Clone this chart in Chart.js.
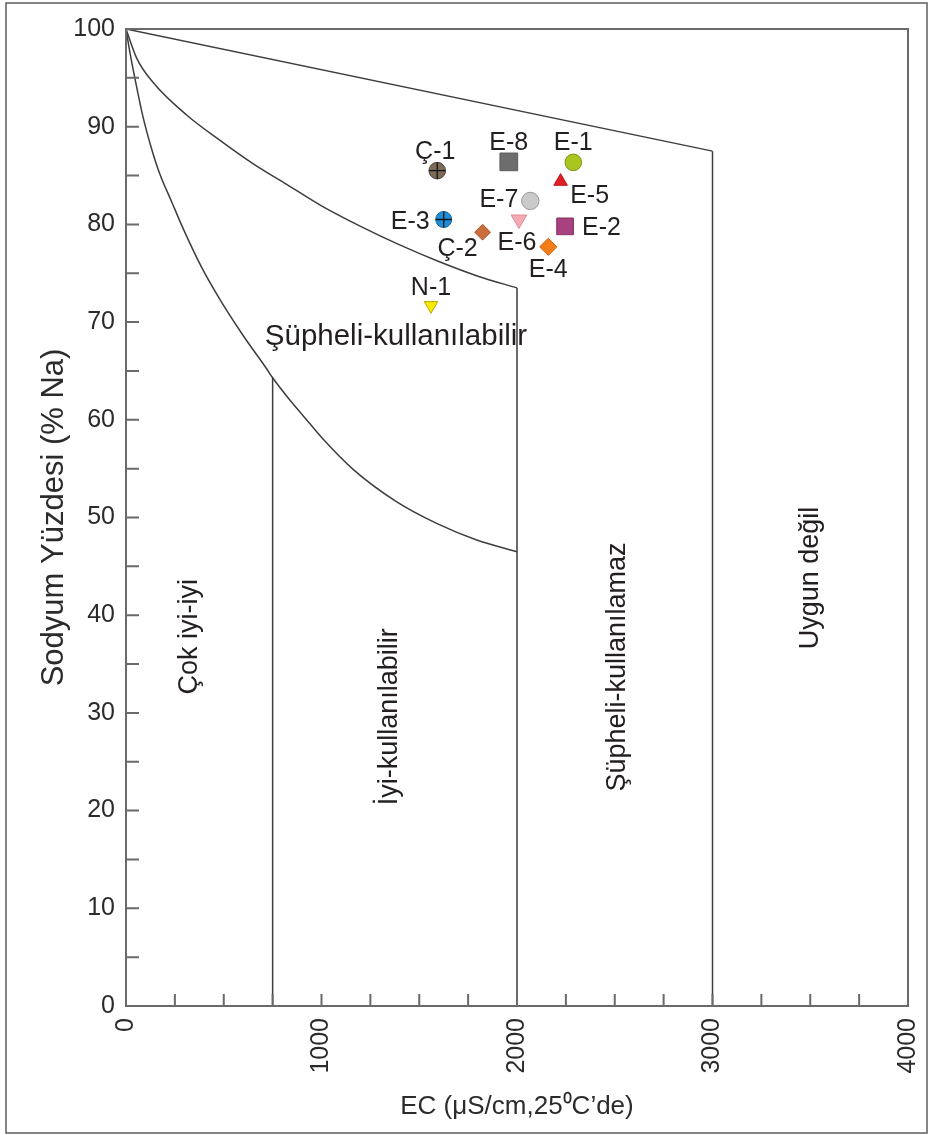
<!DOCTYPE html>
<html>
<head>
<meta charset="utf-8">
<script src="https://cdn.jsdelivr.net/npm/chart.js@4"></script>
<style>
  html, body { margin: 0; padding: 0; background: #fff; }
  #wrap { width: 931px; height: 1135px; position: relative; }
</style>
</head>
<body>
<div id="wrap"><canvas id="wilcox"></canvas></div>
<script>
// su örnekleri: EC (µS/cm) ve % Na
const sampleNames = ['Ç-1', 'E-8', 'E-1', 'E-5', 'E-7', 'E-3', 'E-6', 'E-2', 'Ç-2', 'E-4', 'N-1'];
const sampleEC    = [1592, 1958, 2288, 2223, 2068, 1625, 2010, 2246, 1824, 2160, 1560];
const sampleNa    = [85.5, 86.4, 86.35, 84.4, 82.4, 80.5, 80.5, 79.8, 79.2, 77.7, 71.7];

// sınıf sınırları (Wilcox)
const upperLineEC = [0, 3000];
const upperLineNa = [100, 87.5];
const midCurveEC  = [0, 55, 140, 310, 481, 651, 822, 1000, 1200, 1400, 1600, 1800, 2000];
const midCurveNa  = [100, 97.0, 94.5, 91.2, 88.6, 86.2, 84.1, 81.9, 79.8, 77.9, 76.2, 74.7, 73.5];
const lowCurveEC  = [0, 20, 41, 87, 130, 174, 234, 285, 387, 481, 600, 720, 750, 839, 907, 1009, 1163, 1385, 1589, 1794, 2000];
const lowCurveNa  = [100, 97.6, 95.4, 91.0, 87.8, 85.1, 82.3, 79.9, 75.6, 72.3, 68.6, 65.2, 64.3, 62.0, 60.4, 58.0, 54.9, 51.6, 49.4, 47.7, 46.5];
const boundaryEC    = [750, 2000, 3000];
const boundaryTopNa = [64.3, 73.5, 87.5];

const classNames = ['Çok iyi-iyi', 'İyi-kullanılabilir', 'Şüpheli-kullanılabilir', 'Şüpheli-kullanılamaz', 'Uygun değil'];
const classEC    = [327, 1350, 1381, 2512, 3499];
const classNa    = [37.8, 29.6, 68.5, 34.7, 43.8];

const xLabelTicks = [0, 1000, 2000, 3000, 4000];
const yLabelTicks = [0, 10, 20, 30, 40, 50, 60, 70, 80, 90, 100];

const FONT = "'Liberation Sans', Arial, sans-serif";

// görünüm
const markerStyle = {
  'Ç-1': { shape: 'circle',   r: 8.3,  fill: '#7b6b57', line: '#4d4236', cross: true },
  'E-8': { shape: 'rect',     r: 12.5, fill: '#6d6d6d', line: '#5a5a5a' },
  'E-1': { shape: 'circle',   r: 8.3,  fill: '#a9c61f', line: '#7d9212' },
  'E-5': { shape: 'triangle', r: 7.8,  fill: '#e01f26', line: '#c0141b' },
  'E-7': { shape: 'circle',   r: 8.7,  fill: '#cacaca', line: '#9a9a9a' },
  'E-3': { shape: 'circle',   r: 8,    fill: '#1d8fd8', line: '#15679c', cross: true },
  'E-6': { shape: 'triangle', r: 9,    fill: '#f5aab6', line: '#d98c98', rot: 180 },
  'E-2': { shape: 'rect',     r: 11.8, fill: '#a8417f', line: '#84305f' },
  'Ç-2': { shape: 'rectRot',  r: 7.9,  fill: '#c96d3d', line: '#a9552b' },
  'E-4': { shape: 'rectRot',  r: 8.6,  fill: '#f27c18', line: '#d0650c' },
  'N-1': { shape: 'triangle', r: 7.8,  fill: '#f7ea00', line: '#b7a800', rot: 180 }
};
const labelPlace = {
  'Ç-1': { dx: -2,  dy: -12, align: 'center' },
  'E-8': { dx: 0,   dy: -12, align: 'center' },
  'E-1': { dx: 0,   dy: -12, align: 'center' },
  'E-5': { dx: 29,  dy: 22,  align: 'center' },
  'E-7': { dx: -12, dy: 6,   align: 'right' },
  'E-3': { dx: -14, dy: 9,   align: 'right' },
  'E-6': { dx: -2,  dy: 30,  align: 'center' },
  'E-2': { dx: 17,  dy: 9,   align: 'left' },
  'Ç-2': { dx: -25, dy: 24,  align: 'center' },
  'E-4': { dx: 0,   dy: 30,  align: 'center' },
  'N-1': { dx: 0,   dy: -10, align: 'center' }
};
const classRotation = [-90, -90, 0, -90, -90];
const classFontSize = [27, 27, 29.5, 27, 27];

function pts(xs, ys) {
  return xs.map((v, i) => ({ x: v, y: ys[i] }));
}

const lineStyle = {
  showLine: true,
  pointRadius: 0,
  borderColor: '#3d3d3d',
  borderWidth: 1.5,
  fill: false
};

const markerData = pts(sampleEC, sampleNa);
const crossIdx = sampleNames.map((n, i) => i).filter(i => markerStyle[sampleNames[i]].cross);

const datasets = [
  {
    data: crossIdx.map(i => markerData[i]),
    pointStyle: 'cross',
    pointRadius: crossIdx.map(i => markerStyle[sampleNames[i]].r),
    borderColor: '#151515',
    pointBorderWidth: 1.3
  },
  {
    data: markerData,
    pointStyle: sampleNames.map(n => markerStyle[n].shape),
    pointRadius: sampleNames.map(n => markerStyle[n].r),
    pointRotation: sampleNames.map(n => markerStyle[n].rot || 0),
    backgroundColor: sampleNames.map(n => markerStyle[n].fill),
    borderColor: sampleNames.map(n => markerStyle[n].line),
    pointBorderWidth: 1
  },
  Object.assign({ data: pts(upperLineEC, upperLineNa) }, lineStyle),
  Object.assign({ data: pts(midCurveEC, midCurveNa), cubicInterpolationMode: 'monotone' }, lineStyle),
  Object.assign({ data: pts(lowCurveEC, lowCurveNa), cubicInterpolationMode: 'monotone' }, lineStyle)
];
boundaryEC.forEach((ec, i) => {
  datasets.push(Object.assign({ data: pts([ec, ec], [boundaryTopNa[i], 0]) }, lineStyle));
});

const frame = {
  id: 'frame',
  beforeDraw(chart) {
    const ctx = chart.ctx;
    ctx.save();
    ctx.fillStyle = '#fff';
    ctx.fillRect(0, 0, chart.width, chart.height);
    ctx.strokeStyle = '#5e5e5e';
    ctx.lineWidth = 1.5;
    ctx.strokeRect(6, 3, chart.width - 10, chart.height - 5);
    ctx.restore();
  },
  afterDraw(chart) {
    const { ctx, chartArea: a, scales: { x, y } } = chart;
    ctx.save();
    ctx.strokeStyle = '#6a6a6a';
    ctx.lineWidth = 2;
    ctx.strokeRect(a.left, a.top, a.right - a.left, a.bottom - a.top);
    ctx.beginPath();
    x.ticks.forEach(t => {
      const px = x.getPixelForValue(t.value);
      ctx.moveTo(px, a.bottom);
      ctx.lineTo(px, a.bottom - 12);
    });
    y.ticks.forEach(t => {
      const py = y.getPixelForValue(t.value);
      ctx.moveTo(a.left, py);
      ctx.lineTo(a.left + 13, py);
    });
    ctx.stroke();
    ctx.restore();
  }
};

const annotate = {
  id: 'annotate',
  afterDatasetsDraw(chart) {
    const { ctx, scales: { x, y } } = chart;
    ctx.save();
    ctx.fillStyle = '#231f20';
    ctx.font = '25px ' + FONT;
    ctx.textBaseline = 'alphabetic';
    sampleNames.forEach((name, i) => {
      const p = labelPlace[name];
      ctx.textAlign = p.align;
      ctx.fillText(name, x.getPixelForValue(sampleEC[i]) + p.dx, y.getPixelForValue(sampleNa[i]) + p.dy);
    });

    ctx.textAlign = 'center';
    ctx.textBaseline = 'middle';
    classNames.forEach((txt, i) => {
      ctx.save();
      ctx.font = classFontSize[i] + 'px ' + FONT;
      ctx.translate(x.getPixelForValue(classEC[i]), y.getPixelForValue(classNa[i]));
      ctx.rotate(classRotation[i] * Math.PI / 180);
      ctx.fillText(txt, 0, 0);
      ctx.restore();
    });
    ctx.restore();
  }
};

Chart.defaults.font.family = FONT;
Chart.defaults.color = '#2b2b2b';

new Chart(document.getElementById('wilcox'), {
  type: 'scatter',
  data: { datasets: datasets },
  options: {
    responsive: true,
    maintainAspectRatio: false,
    animation: false,
    events: [],
    layout: { padding: { top: 29, right: 23, left: 0, bottom: 0 } },
    plugins: {
      legend: { display: false },
      tooltip: { enabled: false }
    },
    scales: {
      x: {
        type: 'linear',
        min: 0,
        max: 4000,
        grid: { display: false, drawTicks: false },
        border: { display: false },
        ticks: {
          stepSize: 250,
          autoSkip: false,
          maxRotation: 90,
          minRotation: 90,
          padding: 12,
          font: { size: 25 },
          color: '#2b2b2b',
          callback: v => xLabelTicks.includes(v) ? String(v) : ''
        },
        title: {
          display: true,
          text: 'EC (μS/cm,25⁰C’de)',
          font: { size: 26 },
          color: '#2b2b2b',
          padding: { top: 0, bottom: 13 }
        },
        afterFit(scale) {
          scale.height = 129;
          scale.paddingLeft = 0;
          scale.paddingRight = 0;
        }
      },
      y: {
        type: 'linear',
        min: 0,
        max: 100,
        grid: { display: false, drawTicks: false },
        border: { display: false },
        ticks: {
          stepSize: 5,
          autoSkip: false,
          padding: 11,
          font: { size: 25 },
          color: '#2b2b2b',
          callback: v => yLabelTicks.includes(v) ? String(v) : ''
        },
        title: {
          display: true,
          text: 'Sodyum Yüzdesi (% Na)',
          font: { size: 31 },
          color: '#2b2b2b',
          padding: { top: 36, bottom: 0 }
        },
        afterFit(scale) {
          scale.width = 126;
          scale.paddingTop = 0;
          scale.paddingBottom = 0;
        }
      }
    }
  },
  plugins: [frame, annotate]
});
</script>
</body>
</html>
